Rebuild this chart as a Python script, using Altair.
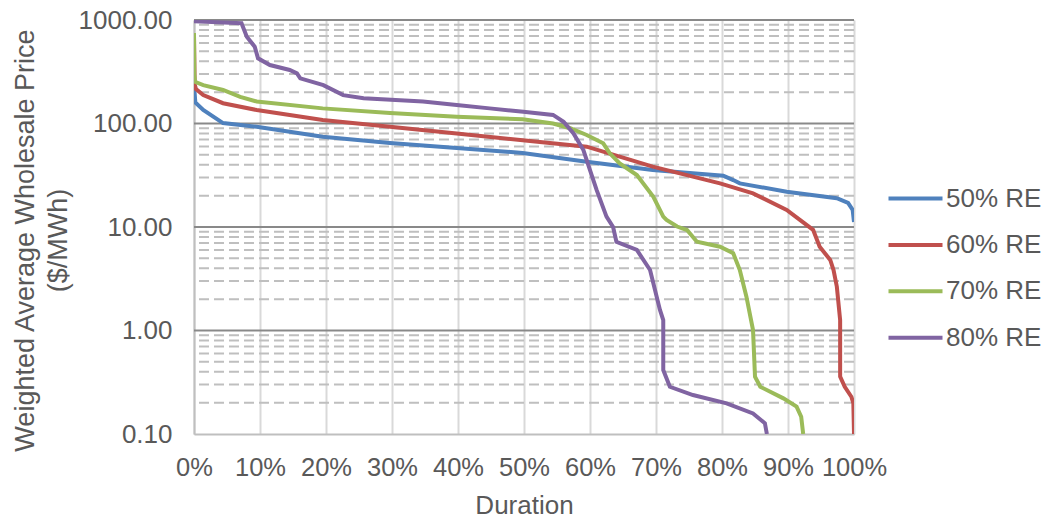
import altair as alt
import pandas as pd

series_names = ["50% RE", "60% RE", "70% RE", "80% RE"]
series_colors = ["#4F81BD", "#C0504D", "#9BBB59", "#8064A2"]

re50_x = [0, 0.2, 1.4, 4.4, 9.5, 19.5, 29.7, 39.8, 49.8, 59.5, 69.5, 80.2, 81.7, 82.7, 89.8, 97.4, 99.1, 99.8, 100]
re50_y = [240, 160, 135, 101, 93, 74.5, 64.8, 58, 52, 42.8, 35.5, 31.3, 28.4, 26.4, 21.9, 19.0, 17.1, 14.6, 11.2]

re60_x = [0, 0.1, 0.3, 1.4, 4.4, 9.5, 19.5, 29.7, 39.8, 49.8, 59.5, 64.5, 69.5, 79.7, 84.7, 89.8, 91.8, 93.8,
          94.8, 96.4, 96.9, 97.4, 97.9, 97.9, 98.6, 99.6, 99.9, 100]
re60_y = [700, 240, 215, 188, 157, 135, 108, 93, 80, 69, 59.7, 47.8, 38.3, 26.4, 21.1, 14.6, 11.7, 9.4,
          6.45, 4.8, 3.84, 2.65, 1.26, 0.358, 0.286, 0.229, 0.198, 0.1]

re70_x = [0, 0.05, 0.15, 1.4, 4.4, 7.0, 9.5, 19.5, 29.7, 39.8, 49.8, 54.4, 57.0, 59.5, 62.0, 63.0, 64.5, 67.1,
          69.6, 71.1, 71.6, 73.2, 74.7, 76.2, 79.7, 81.7, 82.7, 83.7, 84.7, 85.0, 85.8, 89.3, 91.3, 92.0, 92.3]
re70_y = [750, 300, 253, 235, 211, 181, 163, 140, 126, 116, 110, 100, 90, 77.4, 64.4, 51.5, 41.2, 31.8,
          19.6, 12.6, 11.7, 10.1, 9.35, 7.2, 6.45, 5.57, 3.84, 2.12, 1.01, 0.358, 0.286, 0.221, 0.184, 0.147, 0.1]

re80_x = [0, 7.2, 8.0, 9.2, 9.7, 11.5, 14.5, 15.6, 16.1, 19.6, 22.6, 25.7, 34.7, 39.8, 44.8, 49.9, 54.4, 56.0,
          57.5, 59.0, 60.0, 61.0, 62.5, 63.5, 64.0, 67.1, 69.1, 70.6, 71.1, 71.1, 72.1, 75.6, 80.7, 84.7, 86.5, 86.8]
re80_y = [970, 930, 690, 552, 426, 367, 329, 305, 273, 235, 188, 175, 163, 151, 140, 130, 121, 104,
          80, 55.4, 35.5, 22.8, 12.6, 10, 7.2, 6.0, 3.84, 1.58, 1.26, 0.415, 0.286, 0.238, 0.198, 0.158, 0.127, 0.1]

x_ticks = [0, 10, 20, 30, 40, 50, 60, 70, 80, 90, 100]
y_ticks = [0.1, 1, 10, 100, 1000]
major_grid = [1, 10, 100, 1000]
minor_grid = [d * k for d in [0.1, 1, 10, 100] for k in range(2, 10)]

rows = []
for name, xs, ys in zip(series_names, [re50_x, re60_x, re70_x, re80_x], [re50_y, re60_y, re70_y, re80_y]):
    for i, (xv, yv) in enumerate(zip(xs, ys)):
        rows.append({"series": name, "duration": xv, "price": yv, "pt": i})
df = pd.DataFrame(rows)

FONT = "Liberation Sans"
TXT = "#595959"

y_scale = alt.Scale(type="log", domain=[0.1, 1000], nice=False)
y_axis = alt.Axis(
    values=y_ticks, format=".2f", grid=False, ticks=False, domainColor="#bfbfbf", domainWidth=2,
    labelPadding=22, labelFontSize=26, labelColor=TXT, labelFont=FONT, labelFlush=False,
    title=["Weighted Average Wholesale Price", "($/MWh)"], titleFontSize=27, titleFont=FONT,
    titleFontWeight="normal", titleColor=TXT, titleLineHeight=33, titleX=-155, titleY=220,
)
x_axis = alt.Axis(
    values=x_ticks, labelExpr="datum.value + '%'", grid=True, gridColor="#d9d9d9", gridWidth=2,
    ticks=False, domainColor="#bfbfbf", domainWidth=2, labelFontSize=25.5, labelColor=TXT,
    labelFont=FONT, labelFlush=False, labelOverlap=False, labelPadding=21,
    title="Duration", titleFontSize=26, titleFont=FONT, titleFontWeight="normal", titleColor=TXT,
    titleBaseline="alphabetic", titleY=79,
)

minor = alt.Chart(pd.DataFrame({"price": minor_grid})).mark_rule(
    color="#bfbfbf", strokeWidth=2, strokeDash=[10, 5]
).encode(y=alt.Y("price:Q", scale=y_scale, axis=y_axis))

major = alt.Chart(pd.DataFrame({"price": major_grid})).mark_rule(
    color="#898989", strokeWidth=2
).encode(y=alt.Y("price:Q", scale=y_scale, axis=y_axis))

lines = alt.Chart(df).mark_line(strokeWidth=4, clip=True).encode(
    x=alt.X("duration:Q", scale=alt.Scale(domain=[0, 100], nice=False), axis=x_axis),
    y=alt.Y("price:Q", scale=y_scale, axis=y_axis),
    color=alt.Color(
        "series:N",
        scale=alt.Scale(domain=series_names, range=series_colors),
        legend=alt.Legend(
            title=None, orient="none", legendX=697, legendY=154, padding=0,
            symbolType="M-1.2,0H1.2", symbolSize=2025, symbolStrokeWidth=4,
            labelFontSize=26, labelFont=FONT, labelColor=TXT, labelOffset=6, rowPadding=8.4,
        ),
    ),
    order=alt.Order("pt:Q"),
)

chart = alt.layer(minor, major, lines).properties(
    width=660, height=414,
    autosize=alt.AutoSizeParams(type="none"),
    padding={"left": 186, "top": 12, "right": 190, "bottom": 80},
).configure_view(stroke=None).configure(background="white")

chart.save("out.html", embed_options={"renderer": "svg", "actions": False})
